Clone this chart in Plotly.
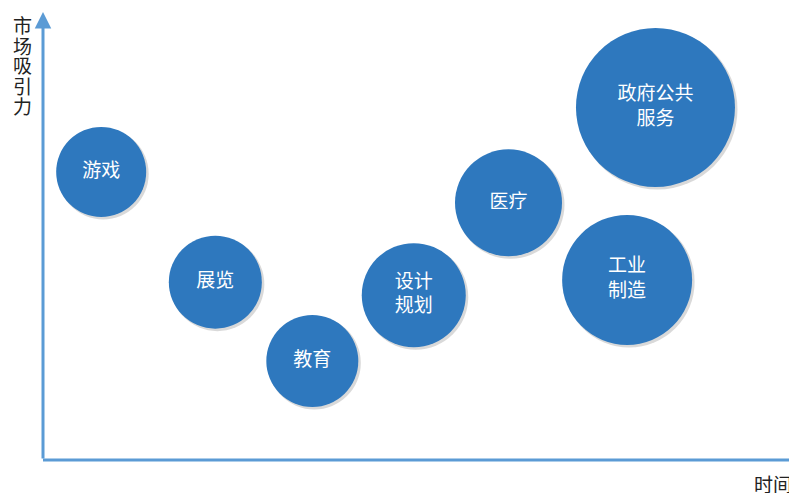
import plotly.graph_objects as go

# Data (x: 时间, y: 市场吸引力, size: bubble diameter)
labels = ["游戏", "展览", "教育", "设计<br>规划", "医疗", "工业<br>制造", "政府公共<br>服务"]
time_vals = [7.8, 23.1, 36.1, 49.7, 62.4, 78.3, 82.1]
attract_vals = [64.3, 39.7, 22.1, 36.8, 57.4, 40.2, 78.7]
sizes = [90, 93, 92, 104, 107, 130, 159]
y_title_chars = ["市", "场", "吸", "引", "力"]
x_title = "时间"

W, H = 789, 493
ml, mr, mt, mb = 43, 0, 12, 33
pw, ph = W - ml - mr, H - mt - mb

blue = "#2E78BE"
axis_blue = "#5B9BD5"
font_fam = "Noto Sans CJK SC, Noto Sans, sans-serif"

# shadow offset (in data units for ~2px)
dx = 2 * 100 / pw
dy = -2 * 100 / ph

fig = go.Figure()
fig.add_trace(go.Scatter(
    x=[v + dx for v in time_vals], y=[v + dy for v in attract_vals],
    mode="markers",
    marker=dict(size=[s + 1 for s in sizes], sizemode="diameter", color="rgba(60,60,60,0.28)",
                line=dict(width=0)),
    hoverinfo="skip", showlegend=False,
))
fig.add_trace(go.Scatter(
    x=time_vals, y=attract_vals,
    mode="markers+text",
    text=labels,
    textposition="middle center",
    textfont=dict(family=font_fam, size=19, color="white"),
    marker=dict(size=sizes, sizemode="diameter", color=blue, opacity=1,
                line=dict(width=0)),
    hoverinfo="skip", showlegend=False,
))

annotations = [
    dict(xref="paper", yref="paper", x=0, y=1, ax=0, ay=ph, axref="pixel", ayref="pixel",
         showarrow=True, arrowhead=2, arrowsize=1.1, arrowwidth=3, arrowcolor=axis_blue,
         text="", standoff=0),
    dict(xref="paper", yref="paper", x=(752 - ml) / pw, y=-(8 / ph),
         xanchor="left", yanchor="top", showarrow=False,
         text=x_title, font=dict(family=font_fam, size=19, color="#222222")),
]
# vertical stacked y-axis title, one character per line with tight pitch
for i, ch in enumerate(y_title_chars):
    cy = 25 + i * 20  # pixel centre from top of figure
    annotations.append(dict(
        xref="paper", yref="paper", x=(22 - ml) / pw, y=1 - (cy - mt) / ph,
        xanchor="center", yanchor="middle", showarrow=False,
        text=ch, font=dict(family=font_fam, size=19, color="#222222")))

fig.update_layout(
    width=W, height=H,
    margin=dict(l=ml, r=mr, t=mt, b=mb),
    paper_bgcolor="white", plot_bgcolor="white",
    xaxis=dict(range=[0, 100], visible=False, fixedrange=True),
    yaxis=dict(range=[0, 100], visible=False, fixedrange=True),
    hovermode=False,
    shapes=[
        dict(type="line", xref="paper", yref="paper", x0=0, x1=1.01, y0=0, y1=0,
             line=dict(color=axis_blue, width=3)),
    ],
    annotations=annotations,
)

fig.write_html("out.html")
